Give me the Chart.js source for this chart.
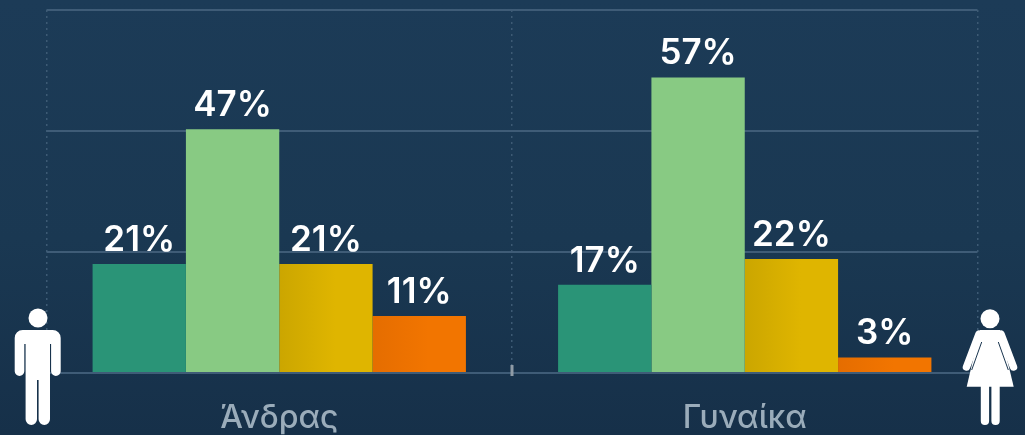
<!DOCTYPE html>
<html lang="el">
<head>
<meta charset="utf-8">
<title>Άνδρας / Γυναίκα</title>
<style>
  html, body { margin: 0; padding: 0; overflow: hidden; }
  body { width: 1025px; height: 435px; background: linear-gradient(180deg, #1c3b57 0%, #1a3852 55%, #163049 100%); }
  canvas { display: block; }
</style>
</head>
<body>
<canvas id="chart" width="1025" height="435"></canvas>
<script src="https://cdn.jsdelivr.net/npm/chart.js"></script>
<script>
const categories = ["Άνδρας", "Γυναίκα"];
const tealValues = [21, 17];
const lightGreenValues = [47, 57];
const yellowValues = [21, 22];
const orangeValues = [11, 3];
const yTicks = [0, 70 / 3, 140 / 3, 70];

const FONT = "Inter, 'Noto Sans', sans-serif";
const GROUP_WIDTH = 0.802;

// left edge -> right edge shading of one bar
function barFill(dark, light) {
  return ctx => {
    const x = ctx.chart.scales.x;
    if (ctx.dataIndex === undefined || !x || !x.width) return light;
    const catW = x.width / categories.length;
    const left = x.getPixelForValue(ctx.dataIndex) + catW * GROUP_WIDTH * (ctx.datasetIndex - 2) / 4;
    if (!isFinite(left)) return light;
    const g = ctx.chart.ctx.createLinearGradient(left, 0, left + catW * GROUP_WIDTH / 4, 0);
    g.addColorStop(0, dark);
    g.addColorStop(0.6, light);
    g.addColorStop(1, light);
    return g;
  };
}

/* ---------- VALUE LABELS ---------- */

const valueLabels = {
  id: "valueLabels",
  afterDatasetsDraw(chart) {
    const c = chart.ctx;
    c.save();
    c.fillStyle = "#ffffff";
    c.font = "600 35px " + FONT;
    c.textAlign = "center";
    c.textBaseline = "alphabetic";
    chart.data.datasets.forEach((ds, i) => {
      chart.getDatasetMeta(i).data.forEach((bar, j) => {
        c.fillText(ds.data[j] + "%", bar.x, bar.y - 13);
      });
    });
    c.restore();
  }
};

/* ---------- CENTER TICK AND FIGURES ---------- */

function drawMan(c) {
  c.beginPath();
  c.arc(38, 318, 9.5, 0, Math.PI * 2);
  c.fill();
  c.beginPath();
  c.roundRect(14.7, 330, 46, 14, [8, 8, 0, 0]);
  c.roundRect(14.7, 336, 9.6, 40, 4.8);
  c.roundRect(51.1, 336, 9.6, 40, 4.8);
  c.rect(25.6, 330, 24.4, 50);
  c.roundRect(25.6, 370, 11.4, 55, 5.7);
  c.roundRect(38.6, 370, 11.4, 55, 5.7);
  c.fill();
}

function drawWoman(c) {
  c.beginPath();
  c.arc(990, 318.7, 9.5, 0, Math.PI * 2);
  c.fill();
  c.beginPath();
  c.moveTo(980, 330);
  c.lineTo(1000, 330);
  c.lineTo(1013.7, 386.7);
  c.lineTo(966.7, 386.7);
  c.closePath();
  c.fill();
  c.beginPath();
  c.roundRect(980.8, 380, 8.3, 45, 4.1);
  c.roundRect(991.4, 380, 8.3, 45, 4.1);
  c.fill();
  c.lineCap = "round";
  c.lineWidth = 7.5;
  c.strokeStyle = "#ffffff";
  c.beginPath();
  c.moveTo(979, 334);
  c.lineTo(966.5, 367);
  c.moveTo(1001, 334);
  c.lineTo(1013.5, 367);
  c.stroke();
  // thin gap between arms and dress
  c.lineCap = "butt";
  c.lineWidth = 1;
  c.strokeStyle = "#1a3650";
  c.beginPath();
  c.moveTo(981.7, 342);
  c.lineTo(971.7, 370);
  c.moveTo(998.3, 342);
  c.lineTo(1008.3, 370);
  c.stroke();
}

const decorations = {
  id: "decorations",
  afterDraw(chart) {
    const c = chart.ctx;
    const mid = (chart.chartArea.left + chart.chartArea.right) / 2;
    const bottom = chart.chartArea.bottom;
    c.save();
    c.fillStyle = "#8f9ba6";
    c.fillRect(mid - 1.5, bottom - 8, 3, 11);
    c.fillStyle = "#ffffff";
    drawMan(c);
    drawWoman(c);
    c.restore();
  }
};

/* ---------- CHART ---------- */

new Chart(document.getElementById("chart"), {
  type: "bar",
  data: {
    labels: categories,
    datasets: [
      { data: tealValues, backgroundColor: "#2a9477" },
      { data: lightGreenValues, backgroundColor: "#88ca83" },
      { data: yellowValues, backgroundColor: barFill("#cba600", "#dfb500") },
      { data: orangeValues, backgroundColor: barFill("#e56d00", "#f27500") }
    ]
  },
  plugins: [valueLabels, decorations],
  options: {
    responsive: false,
    animation: false,
    layout: { padding: { left: 46.5, right: 47.5, top: 10, bottom: 0 } },
    plugins: { legend: { display: false }, tooltip: { enabled: false } },
    datasets: { bar: { categoryPercentage: GROUP_WIDTH, barPercentage: 1, borderWidth: 0 } },
    scales: {
      x: {
        afterFit: axis => { axis.height = 62; },
        border: { display: false, dash: [2, 4] },
        grid: { offset: true, color: "#3d5a74", lineWidth: 1.5, tickLength: 0 },
        ticks: { color: "#9aacba", font: { family: FONT, size: 32, weight: "500" }, padding: 26, maxRotation: 0 }
      },
      y: {
        min: 0,
        max: 70,
        afterBuildTicks: axis => { axis.ticks = yTicks.map(value => ({ value })); },
        border: { display: false },
        grid: { color: "#3f5c77", lineWidth: 2, tickLength: 0 },
        ticks: { display: false }
      }
    }
  }
});
</script>
</body>
</html>
